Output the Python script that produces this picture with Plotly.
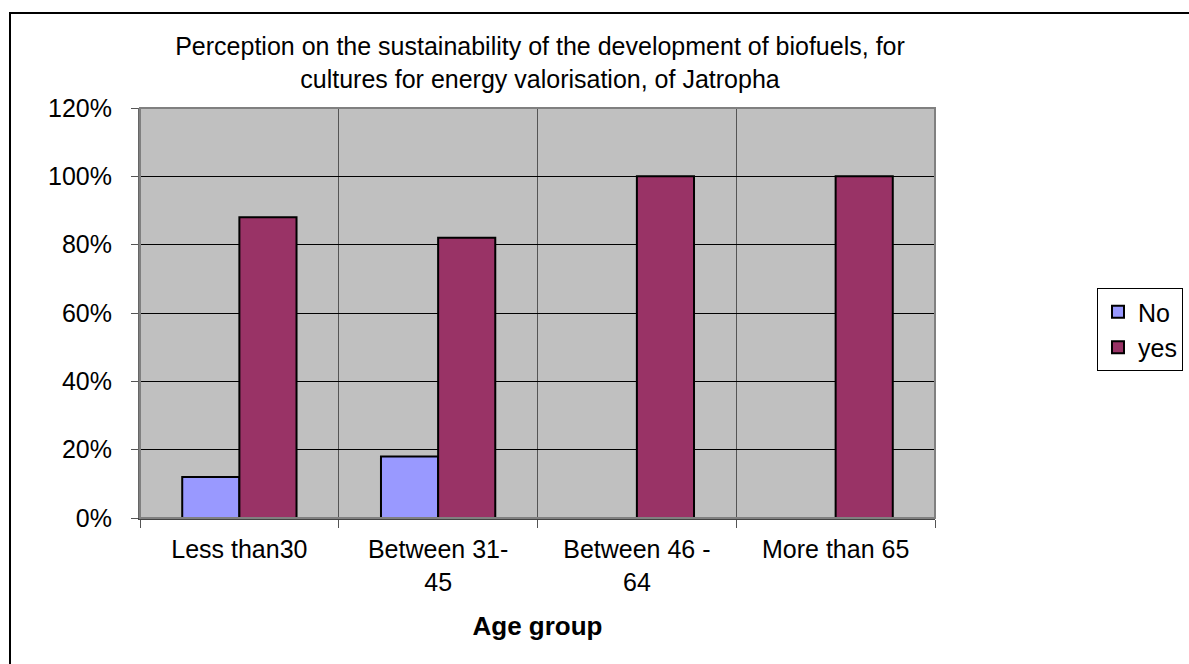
import plotly.graph_objects as go

categories = ["Less than30", "Between 31-<br>45", "Between 46 -<br>64", "More than 65"]
no_values = [0.12, 0.18, 0.0, 0.0]
yes_values = [0.88, 0.82, 1.0, 1.0]
y_ticks = [0, 0.2, 0.4, 0.6, 0.8, 1.0, 1.2]
y_tick_text = ["0%", "20%", "40%", "60%", "80%", "100%", "120%"]

FONT = "Liberation Sans, Arial, sans-serif"

fig = go.Figure()
fig.add_trace(go.Bar(name="No", x=categories, y=no_values,
                     marker=dict(color="#9999FF", line=dict(color="black", width=2))))
fig.add_trace(go.Bar(name="yes", x=categories, y=yes_values,
                     marker=dict(color="#993366", line=dict(color="black", width=2))))

L, R, T, B = 140, 935, 108, 518
W, H = 1189, 664
pw, ph = R - L, B - T

def px(x):
    return (x - L) / pw

def py(y):
    return (B - y) / ph

fig.update_layout(
    width=W, height=H,
    margin=dict(l=L, r=W - R, t=T, b=H - B, pad=0, autoexpand=False),
    paper_bgcolor="white",
    plot_bgcolor="#C0C0C0",
    font=dict(family=FONT, size=25, color="black"),
    barmode="group",
    bargap=0.425,
    bargroupgap=0,
    title=dict(
        text="Perception on the sustainability of the development of biofuels, for<br>cultures for energy valorisation, of Jatropha",
        x=px(540), xref="paper", xanchor="center",
        y=1 - 55 / H, yref="container", yanchor="middle",
        font=dict(family=FONT, size=25, color="black"),
    ),
    legend=dict(
        x=px(1097), y=py(288), xanchor="left", yanchor="top",
        bordercolor="black", borderwidth=1, bgcolor="white",
        font=dict(family=FONT, size=25, color="black"),
        itemwidth=30, tracegroupgap=0,
    ),
    showlegend=True,
)

fig.update_xaxes(
    type="category",
    tickson="boundaries",
    showgrid=True, gridcolor="#555555", gridwidth=1,
    ticks="outside", ticklen=8, tickcolor="#555555",
    showline=True, linecolor="#444444", linewidth=2,
    tickfont=dict(family=FONT, size=25, color="black"),
    ticklabelstandoff=8,
    title=dict(text="<b>Age group</b>", font=dict(family=FONT, size=26, color="black"), standoff=22),
    range=[-0.5, 3.5],
)
fig.update_yaxes(
    range=[0, 1.2],
    tickvals=y_ticks, ticktext=y_tick_text,
    showgrid=True, gridcolor="black", gridwidth=1,
    ticks="outside", ticklen=7, tickcolor="#555555",
    showline=True, linecolor="#666666", linewidth=2,
    tickfont=dict(family=FONT, size=25, color="black"),
    ticklabelstandoff=14,
    zeroline=False,
)

# plot area border (top & right)
fig.add_shape(type="rect", xref="paper", yref="paper", x0=0, y0=0, x1=1, y1=1,
              line=dict(color="#808080", width=2), fillcolor="rgba(0,0,0,0)", layer="above")
# outer chart border
fig.add_shape(type="rect", xref="paper", yref="paper",
              x0=px(10), y0=py(700), x1=px(1250), y1=py(13),
              line=dict(color="black", width=2), fillcolor="rgba(0,0,0,0)")

fig.write_html("out.html")
